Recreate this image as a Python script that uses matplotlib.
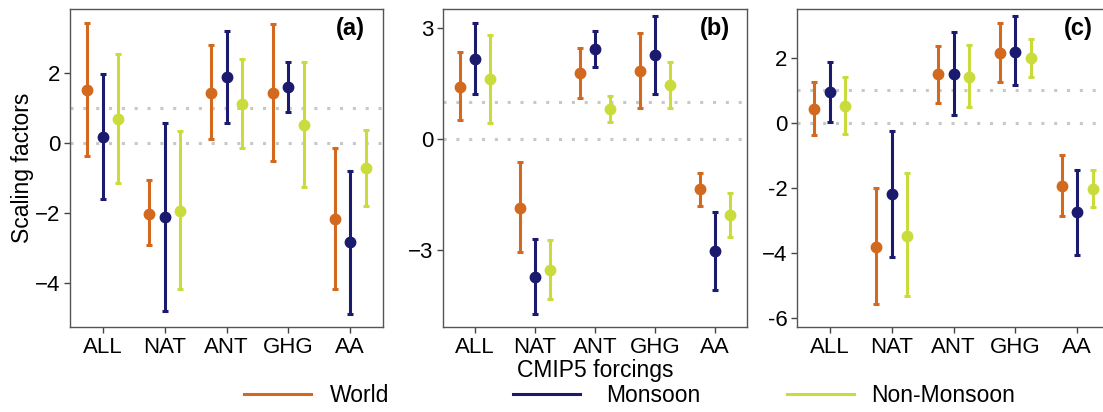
import numpy as np
import matplotlib.pyplot as plt
from matplotlib.lines import Line2D

plt.rcParams['font.family'] = ['Liberation Sans', 'DejaVu Sans']

forcings = ['ALL', 'NAT', 'ANT', 'GHG', 'AA']
regions = ['World', 'Monsoon', 'Non-Monsoon']
colors = ['#d2691e', '#1a1a6e', '#cadc3c']

# panel (a): best estimate, lower and upper bounds per region
a_world = [1.54, -2.02, 1.45, 1.45, -2.16]
a_world_lo = [-0.35, -2.89, 0.12, -0.50, -4.15]
a_world_hi = [3.45, -1.05, 2.81, 3.40, -0.14]
a_mons = [0.19, -2.10, 1.89, 1.61, -2.83]
a_mons_lo = [-1.60, -4.78, 0.57, 0.90, -4.87]
a_mons_hi = [1.98, 0.57, 3.22, 2.33, -0.78]
a_non = [0.69, -1.92, 1.13, 0.52, -0.71]
a_non_lo = [-1.14, -4.17, -0.13, -1.25, -1.79]
a_non_hi = [2.55, 0.35, 2.42, 2.32, 0.38]

# panel (b)
b_world = [1.42, -1.84, 1.79, 1.85, -1.35]
b_world_lo = [0.52, -3.05, 1.11, 0.84, -1.81]
b_world_hi = [2.35, -0.62, 2.46, 2.88, -0.90]
b_mons = [2.18, -3.71, 2.44, 2.28, -3.01]
b_mons_lo = [1.22, -4.72, 1.96, 1.22, -4.06]
b_mons_hi = [3.15, -2.69, 2.92, 3.33, -1.96]
b_non = [1.62, -3.53, 0.82, 1.46, -2.05]
b_non_lo = [0.43, -4.32, 0.48, 0.85, -2.64]
b_non_hi = [2.83, -2.73, 1.16, 2.09, -1.46]

# panel (c)
c_world = [0.43, -3.82, 1.50, 2.14, -1.94]
c_world_lo = [-0.38, -5.59, 0.62, 1.24, -2.87]
c_world_hi = [1.25, -2.02, 2.37, 3.08, -1.00]
c_mons = [0.94, -2.20, 1.51, 2.18, -2.76]
c_mons_lo = [0.02, -4.12, 0.25, 1.15, -4.06]
c_mons_hi = [1.88, -0.26, 2.78, 3.29, -1.46]
c_non = [0.51, -3.47, 1.42, 1.98, -2.03]
c_non_lo = [-0.36, -5.32, 0.48, 1.40, -2.58]
c_non_hi = [1.41, -1.56, 2.38, 2.57, -1.46]

panels = [
    ('(a)', [(a_world, a_world_lo, a_world_hi), (a_mons, a_mons_lo, a_mons_hi), (a_non, a_non_lo, a_non_hi)],
     (-5.25, 3.84), [-4, -2, 0, 2], ['\u22124', '\u22122', '0', '2']),
    ('(b)', [(b_world, b_world_lo, b_world_hi), (b_mons, b_mons_lo, b_mons_hi), (b_non, b_non_lo, b_non_hi)],
     (-5.07, 3.52), [-3, 0, 3], ['\u22123', '0', '3']),
    ('(c)', [(c_world, c_world_lo, c_world_hi), (c_mons, c_mons_lo, c_mons_hi), (c_non, c_non_lo, c_non_hi)],
     (-6.29, 3.5), [-6, -4, -2, 0, 2], ['-6', '\u22124', '-2', '0', '2']),
]

fig = plt.figure(figsize=(11.03, 4.12), dpi=100)
boxes = [[0.0635, 0.206, 0.2838, 0.772],
         [0.4016, 0.206, 0.2756, 0.772],
         [0.7226, 0.206, 0.2838, 0.772]]
tag_x = [0.943, 0.945, 0.945]

x = np.arange(1, 6)
offsets = [-0.25, 0, 0.25]
for box, tx, (tag, series, ylim, yt, ytl) in zip(boxes, tag_x, panels):
    ax = fig.add_axes(box)
    for yref in (0, 1):
        ax.axhline(yref, color='#c8c8c8', lw=2.2, ls=(0, (1, 3.2)), zorder=0)
    for (mid, lo, hi), off, col in zip(series, offsets, colors):
        mid = np.array(mid)
        err = [mid - np.array(lo), np.array(hi) - mid]
        ax.errorbar(x + off, mid, yerr=err, fmt='o', color=col, ms=7.5,
                    elinewidth=2.2, capsize=2.2, capthick=2.2)
    ax.set_xlim(0.47, 5.53)
    ax.set_ylim(*ylim)
    ax.set_xticks(x)
    ax.set_xticklabels(forcings)
    ax.set_yticks(yt)
    ax.set_yticklabels(ytl)
    ax.tick_params(labelsize=16, length=4, width=1, color='#444444', pad=3)
    for s in ax.spines.values():
        s.set_color('#555555')
        s.set_linewidth(1)
    ax.text(tx, 0.94, tag, transform=ax.transAxes, ha='right', va='center',
            fontsize=17, fontweight='bold')
    if tag == '(a)':
        ax.set_ylabel('Scaling factors', fontsize=16.5, labelpad=0.5)
    if tag == '(b)':
        ax.set_xlabel('CMIP5 forcings', fontsize=16.5, labelpad=1)

# legend entries placed like the original horizontal key
legend_pos = [0.2212, 0.4651, 0.7135]
text_pads = [0.83, 1.13, 0.74]
for name, col, px, tp in zip(regions, colors, legend_pos, text_pads):
    h = Line2D([], [], color=col, lw=2.2)
    fig.legend(handles=[h], labels=[name], loc='center left',
               bbox_to_anchor=(px, 0.04), frameon=False, fontsize=16.5,
               handlelength=2.92, handletextpad=tp, borderaxespad=0,
               borderpad=0)

fig.savefig('out.png', dpi=100)
